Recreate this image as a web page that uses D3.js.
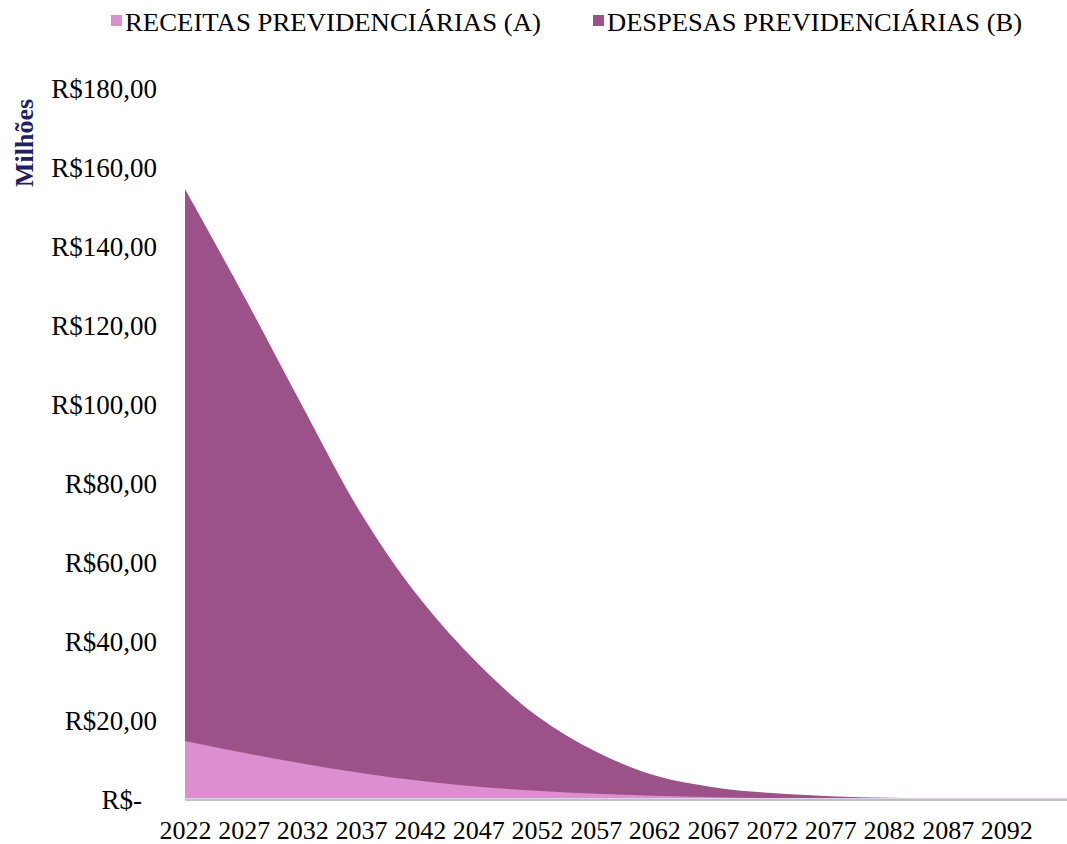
<!DOCTYPE html>
<html><head><meta charset="utf-8">
<script src="https://cdn.jsdelivr.net/npm/d3@7"></script>
<style>body{margin:0;background:#fff}svg{display:block}</style>
</head><body><svg id="c" width="1067" height="844"></svg>
<script>
const years = [2022,2027,2032,2037,2042,2047,2052,2057,2062,2067,2072,2077,2082,2087,2092,2097];
const receitas = [14.7,11.7,9.0,6.6,4.6,3.1,2.1,1.3,0.8,0.45,0.25,0.12,0.05,0.02,0.01,0.0];
const despesas = [154.4,127.5,99.5,72.3,50.8,34.2,21.0,12.0,6.0,3.0,1.5,0.7,0.3,0.12,0.05,0.02];
const yTicks = [0,20,40,60,80,100,120,140,160,180];
const xTickYears = [2022,2027,2032,2037,2042,2047,2052,2057,2062,2067,2072,2077,2082,2087,2092];
const seriesNames = ["RECEITAS PREVIDENCIÁRIAS (A)","DESPESAS PREVIDENCIÁRIAS (B)"];
const colors = ["#dc8fd0","#9b5289"];

const svg = d3.select("#c");
const font = "'Liberation Serif','Times New Roman',serif";
const x = d3.scaleLinear().domain([2022,2097]).range([185,1065]);
const y = d3.scaleLinear().domain([0,180]).range([799,88]);

const area = vals => d3.area()
  .x((d,i)=>x(years[i])).y0(y(0)).y1(d=>y(Math.max(0,d)))
  .curve(d3.curveCatmullRom.alpha(0.5))(vals);

svg.append("path").attr("d",area(despesas)).attr("fill",colors[1]);
svg.append("path").attr("d",area(receitas)).attr("fill",colors[0]);

// axis line
svg.append("line").attr("x1",185).attr("x2",1067).attr("y1",798.5).attr("y2",798.5).attr("stroke","#e3d3ea").attr("stroke-width",1);
svg.append("line").attr("x1",185).attr("x2",1067).attr("y1",800).attr("y2",800).attr("stroke","#bfbfbf").attr("stroke-width",2);

// y axis labels
const yAxis = d3.axisLeft(y).tickValues(yTicks).tickSize(0).tickPadding(0)
  .tickFormat(d => d===0 ? "R$-" : "R$"+d3.format(".2f")(d).replace(".",","));
const yg = svg.append("g").attr("transform","translate(157,0)").call(yAxis);
yg.select(".domain").remove();
yg.selectAll("text").attr("font-family",font).attr("font-size",27).attr("fill","#000")
  .attr("dy","0.35em").attr("dx",d=>d===0?-15:0);

// x axis labels
const xAxis = d3.axisBottom(x).tickValues(xTickYears).tickSize(0).tickPadding(0).tickFormat(d=>String(d));
const xg = svg.append("g").attr("transform","translate(0,839)").call(xAxis);
xg.select(".domain").remove();
xg.selectAll("text").attr("font-family",font).attr("font-size",26).attr("fill","#000").attr("dy",0);

// y title
svg.append("text").attr("transform","translate(33,143) rotate(-90)")
  .attr("text-anchor","middle").attr("font-family",font).attr("font-size",26)
  .attr("font-weight","bold").attr("fill","#1f2160").text("Milhões");

// legend
const legX = [111,593];
const legW = [416,415];
seriesNames.forEach((n,i)=>{
  svg.append("rect").attr("x",legX[i]).attr("y",15).attr("width",11).attr("height",11).attr("fill",colors[i]);
  svg.append("text").attr("x",legX[i]+14).attr("y",31).attr("font-family",font).attr("font-size",26)
    .attr("textLength",legW[i]).attr("lengthAdjust","spacingAndGlyphs").attr("fill","#000").text(n);
});
</script></body></html>
